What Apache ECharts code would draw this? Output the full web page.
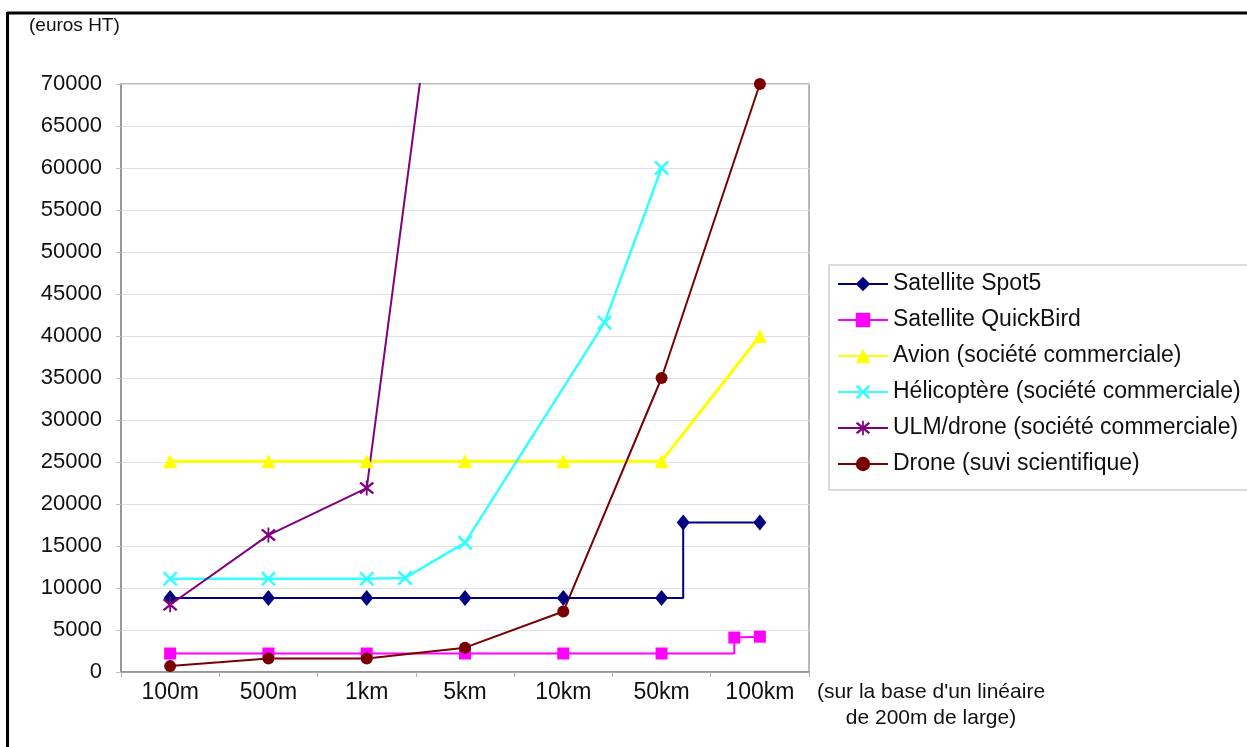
<!DOCTYPE html>
<html><head><meta charset="utf-8">
<script src="https://cdn.jsdelivr.net/npm/echarts@6/dist/echarts.min.js"></script>
<style>html,body{margin:0;padding:0;background:#fff}#c{width:1247px;height:747px}</style>
</head><body><div id="c"></div>
<script>
// ---- data (x positions in category units: 0 = 100m ... 6 = 100km) ----
const categories = ['100m', '500m', '1km', '5km', '10km', '50km', '100km'];
const yTicks = [0, 5000, 10000, 15000, 20000, 25000, 30000, 35000, 40000, 45000, 50000, 55000, 60000, 65000, 70000];

const spot5X = [0, 1, 2, 3, 4, 5, 5.22, 5.22, 6];
const spot5Y = [8800, 8800, 8800, 8800, 8800, 8800, 8800, 17800, 17800];
const spot5Hidden = [6];

const quickX = [0, 1, 2, 3, 4, 5, 5.74, 5.74, 6];
const quickY = [2200, 2200, 2200, 2200, 2200, 2200, 2200, 4100, 4200];
const quickHidden = [6];

const avionX = [0, 1, 2, 3, 4, 5, 6];
const avionY = [25100, 25100, 25100, 25100, 25100, 25100, 40000];

const heliX = [0, 1, 2, 2.39, 3, 4.42, 5];
const heliY = [11100, 11100, 11100, 11200, 15400, 41600, 60000];

const ulmX = [0, 1, 2, 3];
const ulmY = [8000, 16300, 21900, 111000];

const droneX = [0, 1, 2, 3, 4, 5, 6];
const droneY = [700, 1600, 1600, 2900, 7200, 35000, 70000];

const names = ['Satellite Spot5', 'Satellite QuickBird', 'Avion (société commerciale)',
  'Hélicoptère (société commerciale)', 'ULM/drone (société commerciale)', 'Drone (suvi scientifique)'];

// ---- build ----
function pts(xs, ys, hidden) {
  hidden = hidden || [];
  return xs.map((x, i) => hidden.indexOf(i) >= 0 ? { value: [x, ys[i]], symbol: 'none' } : [x, ys[i]]);
}
const FONT = "'Liberation Sans', Arial, sans-serif";
const xPath = 'path://M0,1.2L1.2,0L5,3.8L8.8,0L10,1.2L6.2,5L10,8.8L8.8,10L5,6.2L1.2,10L0,8.8L3.8,5Z';
const starPath = 'path://M0,1.2L1.2,0L5,3.8L8.8,0L10,1.2L6.2,5L10,8.8L8.8,10L5,6.2L1.2,10L0,8.8L3.8,5Z M4.4,-1L5.6,-1L5.6,11L4.4,11Z';

function ser(name, data, color, symbol, size, lw) {
  return {
    name: name, type: 'line', xAxisIndex: 1, data: data,
    symbol: symbol, symbolSize: size, showSymbol: true,
    lineStyle: { color: color, width: lw },
    itemStyle: { color: color, borderWidth: 0 },
    clip: true, z: 3
  };
}

const chart = echarts.init(document.getElementById('c'), null, { renderer: 'canvas' });
chart.setOption({
  animation: false,
  textStyle: { fontFamily: FONT },
  grid: { left: 121, right: 438, top: 84, bottom: 75, show: true, borderColor: '#a0a0a0', borderWidth: 1.5, backgroundColor: 'transparent' },
  xAxis: [
    { type: 'category', data: categories, boundaryGap: true, position: 'bottom',
      axisLine: { onZero: false, lineStyle: { color: '#8c8c8c', width: 1.5 } },
      axisTick: { show: true, length: 5, lineStyle: { color: '#b0b0b0' } },
      axisLabel: { color: '#111', fontSize: 23, margin: 9, fontFamily: FONT },
      splitLine: { show: false } },
    { type: 'value', min: -0.5, max: 6.5, show: false, axisLine: { onZero: false } }
  ],
  yAxis: {
    type: 'value', min: yTicks[0], max: yTicks[yTicks.length - 1], interval: yTicks[1] - yTicks[0],
    axisLine: { show: true, onZero: false, lineStyle: { color: '#8c8c8c', width: 1.5 } },
    axisTick: { show: true, length: 5, lineStyle: { color: '#c0c0c0' } },
    axisLabel: { color: '#111', fontSize: 22, margin: 19, fontFamily: FONT, formatter: v => String(v) },
    splitLine: { show: true, lineStyle: { color: '#e0e0e0', width: 1 } }
  },
  legend: {
    orient: 'vertical', left: 837, top: 272, padding: 0,
    itemWidth: 50, itemHeight: 18, itemGap: 12,
    textStyle: { fontSize: 23, color: '#111', fontFamily: FONT, lineHeight: 24 },
    data: names
  },
  graphic: [
    { type: 'rect', shape: { x: 829, y: 265, width: 460, height: 225 }, style: { fill: 'none', stroke: '#cfcfcf', lineWidth: 1.5 }, z: 0 },
    { type: 'line', shape: { x1: 7, y1: 13, x2: 1260, y2: 13 }, style: { stroke: '#000', lineWidth: 3 } },
    { type: 'line', shape: { x1: 7.5, y1: 12, x2: 7.5, y2: 760 }, style: { stroke: '#000', lineWidth: 3 } },
    { type: 'text', left: 29, top: 16, style: { text: '(euros HT)', font: "19px 'Liberation Sans', Arial, sans-serif", fill: '#111' } },
    { type: 'text', x: 931, y: 679, style: { text: "(sur la base d'un linéaire\nde 200m de large)", font: "21px 'Liberation Sans', Arial, sans-serif", fill: '#111', textAlign: 'center', lineHeight: 26 } }
  ],
  series: [
    ser(names[0], pts(spot5X, spot5Y, spot5Hidden), '#000080', 'diamond', [13, 16], 2),
    ser(names[1], pts(quickX, quickY, quickHidden), '#ff00ff', 'rect', 12, 2),
    ser(names[2], pts(avionX, avionY), '#ffff00', 'triangle', 14, 3),
    ser(names[3], pts(heliX, heliY), '#33ffff', xPath, 15, 2.5),
    ser(names[4], pts(ulmX, ulmY), '#800080', starPath, 15, 2),
    ser(names[5], pts(droneX, droneY), '#7a0000', 'circle', 12, 2)
  ]
});
</script></body></html>
